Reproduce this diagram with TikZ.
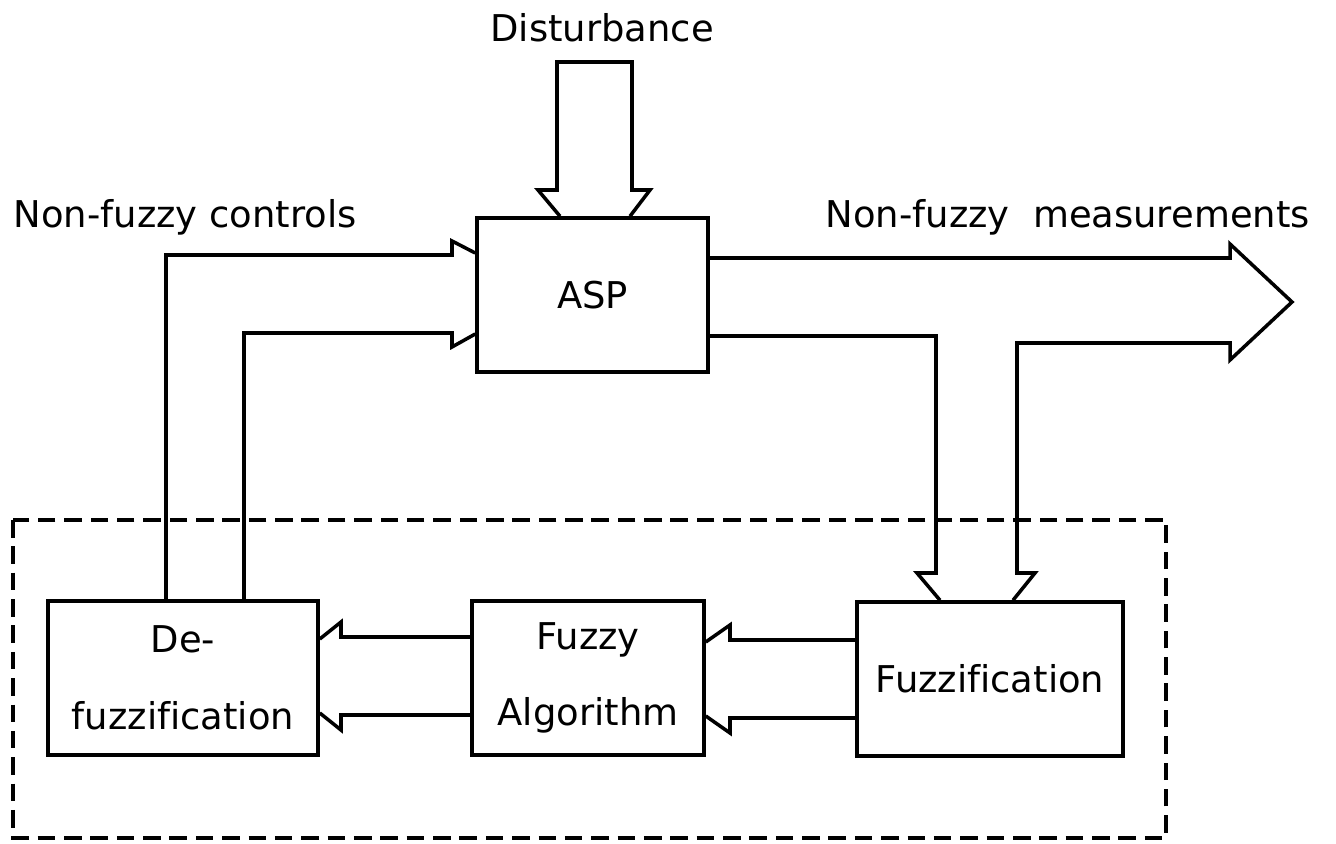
\documentclass[tikz,border=0pt]{standalone}
\usepackage{fontspec}
\setmainfont{DejaVu Sans}[Ligatures=NoCommon]
\usetikzlibrary{positioning}

\begin{document}
\begin{tikzpicture}[x=0.2mm, y=-0.2mm, line width=2pt,
  box/.style={draw,minimum height=30.8mm,inner sep=0pt,align=center,font=\fontsize{21}{43.5}\selectfont},
  lbl/.style={inner sep=0pt,font=\fontsize{21}{24}\selectfont},
  frame/.style={dash pattern=on 10pt off 5pt},
]
  \useasboundingbox (0,0) rectangle (1336,844);

  \node[box,minimum width=46.2mm] (asp) at (592.5,295) {ASP};
  \node[box,minimum width=54mm] (defuz) at (183,678) {De-\\fuzzification};
  \node[box,minimum width=46.4mm] (algo) at (588,678) {Fuzzy\\Algorithm};
  \node[box,minimum width=53.2mm] (fuzz) at (990,679) {Fuzzification};

  \node[lbl,anchor=base] (dist) at (602,42) {Disturbance};
  \node[lbl,anchor=base west] (ctl) at (12,228) {Non-fuzzy controls};
  \node[lbl,anchor=base west] (meas) at (824,228) {Non-fuzzy\ \ measurements};

  \draw[frame] (13,520) rectangle (1166,838);

  % disturbance into ASP
  \draw (asp.north -| 560,0) -- (538,190) -- (557,190) -- (557,62)
    -- (632,62) -- (632,190) -- (650,190) -- (asp.north -| 630,0);

  % controls from de-fuzzification
  \draw (defuz.north -| 166,0) |- (452,255) -- ++(0,-14) -- (asp.west |- 0,253);
  \draw (defuz.north -| 244,0) |- (452,333) -- ++(0,14) -- (asp.west |- 0,334);

  % measurements out of ASP
  \draw (asp.east |- 0,258) -- (1230,258) -- ++(0,-14) -- (1292,302) -- (1230,360)
    -- ++(0,-17) -| (1017,573) -- ++(18,0) -- (fuzz.north -| 1013,0);
  \draw (asp.east |- 0,336) -| (936,573) -- ++(-19,0) -- (fuzz.north -| 940,0);

  % fuzzy sets leftwards
  \draw (fuzz.west |- 0,640) -- (730,640) -- ++(0,-15) -- (algo.east |- 0,642);
  \draw (fuzz.west |- 0,718) -- (730,718) -- ++(0,15) -- (algo.east |- 0,716);
  \draw (algo.west |- 0,637) -- (341,637) -- ++(0,-15) -- (defuz.east |- 0,639);
  \draw (algo.west |- 0,715) -- (341,715) -- ++(0,15) -- (defuz.east |- 0,713);
\end{tikzpicture}
\end{document}
